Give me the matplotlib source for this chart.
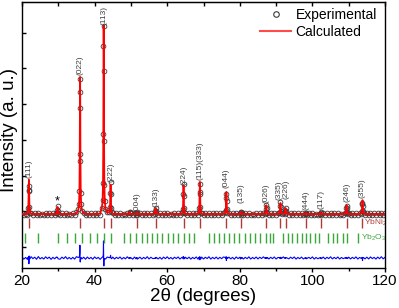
import matplotlib

matplotlib.use("Agg")

import matplotlib.pyplot as plt
import numpy as np
from matplotlib.lines import Line2D

plt.rcParams["font.family"] = ["Liberation Sans", "DejaVu Sans"]
plt.rcParams["mathtext.default"] = "regular"

# ---------------------------------------------------------------------------
# Data (2theta in degrees, intensity in arb. counts)
# ---------------------------------------------------------------------------
two_theta = [
    20.0, 20.5, 21.0, 21.5, 21.6, 21.75, 21.84, 21.9, 21.96, 22.05, 22.2, 22.5,
    23.0, 23.5, 24.0, 24.5, 25.0, 25.5, 26.0, 26.5, 27.0, 27.5, 28.0, 28.5,
    29.0, 29.5, 29.6, 29.72, 29.8, 29.88, 30.0, 30.5, 31.0, 31.5, 32.0, 32.5,
    33.0, 33.5, 34.0, 34.5, 35.0, 35.5, 35.7, 35.82, 35.9, 35.95, 36.0, 36.05,
    36.1, 36.18, 36.3, 36.5, 37.0, 37.5, 38.0, 38.5, 39.0, 39.5, 40.0, 40.5,
    41.0, 41.5, 42.0, 42.2, 42.32, 42.4, 42.45, 42.5, 42.55, 42.6, 42.68, 42.8,
    43.0, 43.5, 44.1, 44.25, 44.34, 44.4, 44.46, 44.55, 44.7, 45.0, 45.5, 46.0,
    46.5, 47.0, 47.5, 48.0, 48.5, 49.0, 49.5, 49.62, 49.7, 49.78, 49.9, 50.5,
    51.0, 51.4, 51.52, 51.6, 51.68, 51.8, 52.5, 53.0, 53.5, 54.0, 54.5, 55.0,
    55.5, 56.0, 56.6, 56.72, 56.8, 56.88, 57.0, 57.5, 58.0, 58.5, 59.0, 59.5,
    60.0, 60.5, 61.0, 61.5, 62.0, 62.5, 63.0, 63.5, 64.0, 64.2, 64.35, 64.44,
    64.5, 64.56, 64.65, 64.8, 65.0, 65.5, 66.0, 66.5, 67.0, 67.5, 68.0, 68.5,
    68.7, 68.85, 68.94, 69.0, 69.06, 69.15, 69.3, 69.5, 70.0, 70.5, 71.0, 71.5,
    72.0, 72.5, 73.0, 73.5, 74.0, 74.5, 75.0, 75.5, 76.0, 76.15, 76.24, 76.3,
    76.36, 76.45, 76.6, 77.0, 77.5, 78.0, 78.5, 79.0, 79.5, 80.0, 80.2, 80.32,
    80.4, 80.48, 80.6, 81.0, 81.5, 82.0, 82.5, 83.0, 83.5, 84.0, 84.5, 85.0,
    85.5, 86.0, 86.5, 87.0, 87.15, 87.24, 87.3, 87.36, 87.45, 87.6, 88.0, 88.5,
    89.0, 89.5, 90.0, 90.5, 90.9, 91.05, 91.14, 91.2, 91.26, 91.35, 91.5, 92.0,
    92.4, 92.52, 92.6, 92.68, 92.8, 93.5, 94.0, 94.5, 95.0, 95.5, 96.0, 96.5,
    97.0, 97.5, 98.0, 98.12, 98.2, 98.28, 98.4, 99.0, 99.5, 100.0, 100.5, 101.0,
    101.5, 102.1, 102.22, 102.3, 102.38, 102.5, 103.0, 103.5, 104.0, 104.5, 105.0, 105.5,
    106.0, 106.5, 107.0, 107.5, 108.0, 108.5, 109.1, 109.25, 109.34, 109.4, 109.46, 109.55,
    109.7, 110.0, 110.5, 111.0, 111.5, 112.0, 112.5, 113.0, 113.5, 113.65, 113.74, 113.8,
    113.86, 113.95, 114.1, 114.5, 115.0, 115.5, 116.0, 116.5, 117.0, 117.5, 118.0, 118.5,
    119.0, 119.5, 120.0,
]

y_calc = [
    920, 920, 920, 925, 978, 1112, 1544, 1880, 1544, 1112, 978, 925,
    920, 920, 920, 920, 920, 920, 920, 920, 920, 920, 920, 920,
    920, 922, 940, 1020, 1120, 1020, 940, 920, 920, 920, 920, 920,
    920, 920, 922, 925, 935, 1035, 1189, 1534, 2456, 3992, 4760, 3992,
    2456, 1534, 1189, 1035, 935, 925, 920, 920, 920, 920, 920, 922,
    925, 935, 1079, 1290, 1766, 3036, 5152, 6210, 5152, 3036, 1766, 1290,
    1079, 950, 984, 1097, 1462, 1745, 1462, 1097, 984, 925, 920, 920,
    920, 920, 920, 920, 920, 920, 926, 950, 980, 950, 926, 920,
    920, 926, 950, 980, 950, 926, 920, 920, 920, 920, 920, 920,
    920, 920, 937, 1005, 1090, 1005, 937, 920, 920, 920, 920, 920,
    920, 920, 920, 920, 920, 920, 920, 922, 925, 969, 1082, 1447,
    1730, 1447, 1082, 969, 925, 920, 920, 920, 920, 920, 922, 928,
    974, 1100, 1505, 1820, 1505, 1100, 974, 925, 920, 920, 920, 920,
    920, 920, 920, 920, 920, 920, 920, 922, 957, 1044, 1323, 1540,
    1323, 1044, 957, 920, 920, 920, 920, 920, 920, 920, 926, 950,
    980, 950, 926, 920, 920, 920, 920, 920, 920, 920, 920, 920,
    920, 920, 920, 935, 970, 1083, 1170, 1083, 970, 935, 920, 920,
    920, 920, 920, 922, 939, 982, 1122, 1230, 1122, 982, 939, 922,
    937, 1005, 1090, 1005, 937, 920, 920, 920, 920, 920, 920, 920,
    920, 920, 923, 935, 950, 935, 923, 920, 920, 920, 920, 920,
    920, 924, 940, 960, 940, 924, 920, 920, 920, 920, 920, 920,
    920, 920, 920, 920, 920, 920, 935, 970, 1083, 1170, 1083, 970,
    935, 922, 920, 920, 920, 920, 920, 922, 943, 998, 1174, 1310,
    1174, 998, 943, 922, 920, 920, 920, 920, 920, 920, 920, 920,
    920, 920, 920,
]

y_obs = [
    948, 888, 935, 885, 990, 1090, 1580, 1720, 1600, 1130, 955, 962,
    902, 942, 885, 960, 895, 933, 891, 954, 904, 945, 882, 939,
    898, 951, 955, 1035, 1140, 1010, 915, 887, 944, 901, 958, 893,
    936, 889, 941, 894, 972, 1050, 1210, 1580, 2600, 4350, 4700, 3880,
    2420, 1510, 1200, 1010, 958, 891, 947, 899, 938, 886, 951, 905,
    943, 898, 1090, 1320, 1800, 3150, 5630, 6180, 4930, 2980, 1740, 1275,
    1050, 978, 990, 1120, 1500, 1820, 1480, 1085, 965, 951, 892, 940,
    903, 949, 889, 935, 897, 954, 908, 965, 992, 940, 941, 888,
    946, 902, 961, 975, 962, 896, 943, 891, 937, 900, 956, 893,
    941, 905, 925, 1020, 1100, 995, 955, 894, 939, 887, 946, 902,
    954, 896, 935, 890, 942, 905, 950, 892, 938, 985, 1070, 1490,
    1760, 1420, 1095, 950, 948, 899, 944, 888, 937, 901, 952, 895,
    990, 1085, 1540, 1770, 1490, 1120, 955, 950, 893, 941, 904, 955,
    889, 938, 898, 947, 892, 940, 901, 951, 970, 1030, 1360, 1470,
    1300, 1060, 945, 944, 896, 937, 887, 950, 903, 942, 898, 968,
    990, 944, 940, 892, 939, 901, 953, 890, 936, 899, 948, 894,
    941, 905, 952, 921, 985, 1070, 1185, 1095, 958, 948, 893, 940,
    902, 949, 891, 938, 950, 970, 1140, 1250, 1105, 995, 925, 954,
    925, 1018, 1080, 1010, 950, 896, 943, 904, 950, 889, 937, 900,
    946, 893, 930, 918, 962, 940, 902, 939, 902, 951, 890, 936,
    898, 935, 925, 972, 948, 905, 947, 892, 940, 903, 954, 895,
    938, 899, 949, 891, 935, 901, 948, 958, 1100, 1160, 1090, 982,
    920, 946, 893, 939, 902, 952, 890, 937, 930, 1015, 1190, 1240,
    1160, 1010, 955, 898, 943, 894, 950, 903, 938, 889, 946, 900,
    955, 896, 940,
]

# Bragg reflection positions (tick rows)
ybni2_ticks = [21.9, 36.0, 42.5, 44.4, 51.6, 56.8, 64.5, 69.0, 76.3, 80.4,
               87.3, 91.2, 92.6, 98.2, 102.3, 109.4, 113.8]
yb2o3_ticks = [20.9, 24.4, 29.8, 32.4, 34.5, 36.5, 38.6, 40.7, 42.7, 44.4,
               48.1, 49.8, 51.4, 53.0, 54.4, 55.8, 57.3, 58.7, 60.2, 61.7,
               63.1, 64.5, 65.9, 67.4, 71.4, 72.8, 74.2, 75.6, 77.0, 78.4,
               79.9, 81.3, 82.8, 84.3, 85.7, 87.1, 88.2, 89.2, 92.0, 93.2,
               94.5, 95.8, 97.0, 98.2, 99.4, 100.6, 101.9, 104.4, 105.6, 106.9,
               108.3, 109.5, 112.6]

# Miller index labels: position and bottom of the text
hkl_labels = ["(111)", "(022)", "(113)", "(222)", "(004)", "(133)", "(224)",
              "(115)(333)", "(044)", "(135)", "(026)", "(335)", "(226)",
              "(444)", "(117)", "(246)", "(355)"]
hkl_tt = [21.9, 36.0, 42.5, 44.4, 51.6, 56.8, 64.5, 69.0, 76.3, 80.4,
          87.3, 90.9, 92.8, 98.2, 102.3, 109.4, 113.8]
hkl_y = [1932, 4816, 6216, 1820, 980, 1120, 1736, 1876, 1652, 1232,
         1232, 1316, 1344, 1036, 1064, 1260, 1372]

DIFF_OFFSET = -310
YBNI2_ROW = (532, 812)
YB2O3_ROW = (112, 392)

# ---------------------------------------------------------------------------
# Plot
# ---------------------------------------------------------------------------
tt = np.array(two_theta)
obs = np.array(y_obs)
calc = np.array(y_calc)

fig = plt.figure(figsize=(3.99, 3.08), dpi=100)
ax = fig.add_axes([22 / 399, 40 / 308, 363 / 399, 266 / 308])

ax.plot(tt, obs, ls="none", marker="o", ms=3.4, mfc="none", mec="#3a3a3a",
        mew=0.6, zorder=2)
ax.plot(tt, calc, color="red", lw=1.3, zorder=3)
ax.plot(tt, obs - calc + DIFF_OFFSET, color="blue", lw=0.8, zorder=2)

ax.vlines(ybni2_ticks, *YBNI2_ROW, color="#b03a3a", lw=1.0)
ax.vlines(yb2o3_ticks, *YB2O3_ROW, color="#3aa83a", lw=1.0)
ax.text(114.1, np.mean(YBNI2_ROW), "YbNi$_2$", color="#b03a3a", fontsize=6,
        va="center", ha="left", clip_on=True)
ax.text(113.5, np.mean(YB2O3_ROW), "Yb$_2$O$_3$", color="#3aa83a", fontsize=6,
        va="center", ha="left", clip_on=True)

for lab, x, y in zip(hkl_labels, hkl_tt, hkl_y):
    ax.text(x, y, lab, rotation=90, ha="center", va="bottom", fontsize=6,
            color="#404040")
ax.text(29.7, 1268, "*", ha="center", va="center", fontsize=9, color="black")

ax.set_xlim(20, 120)
ax.set_ylim(-590, 6860)
ax.set_xticks(np.arange(20, 121, 20))
ax.set_xticks(np.arange(30, 120, 20), minor=True)
ax.set_yticks(np.arange(0, 6001, 1000))
ax.set_yticklabels([])
ax.tick_params(axis="x", which="major", direction="out", length=3, width=1,
               labelsize=11, top=False, pad=1)
ax.tick_params(axis="x", which="minor", direction="out", length=2, width=1,
               top=False)
ax.tick_params(axis="y", direction="in", length=3, width=1, right=False)

top = ax.secondary_xaxis("top")
top.set_xticks(np.arange(20, 121, 10))
top.tick_params(direction="in", length=3, width=1, labeltop=False)

for sp in ax.spines.values():
    sp.set_linewidth(1.0)

fig.text(203 / 399, 1 - 296.5 / 308, "2θ (degrees)", ha="center", va="center",
         fontsize=13.5)
fig.text(10 / 399, 1 - 129.5 / 308, "Intensity (a. u.)", rotation=90,
         ha="center", va="center", fontsize=13.5)

handles = [
    Line2D([], [], ls="none", marker="o", ms=4, mfc="none", mec="#3a3a3a", mew=0.8),
    Line2D([], [], color="#ff4a4a", lw=1.5),
]
ax.legend(handles, ["Experimental", "Calculated"], loc="upper right",
          bbox_to_anchor=(0.978, 0.978), frameon=False, fontsize=10,
          borderpad=0, borderaxespad=0, handlelength=2.2, handletextpad=0.35,
          labelspacing=0.2)

fig.savefig("out.png", dpi=100)
